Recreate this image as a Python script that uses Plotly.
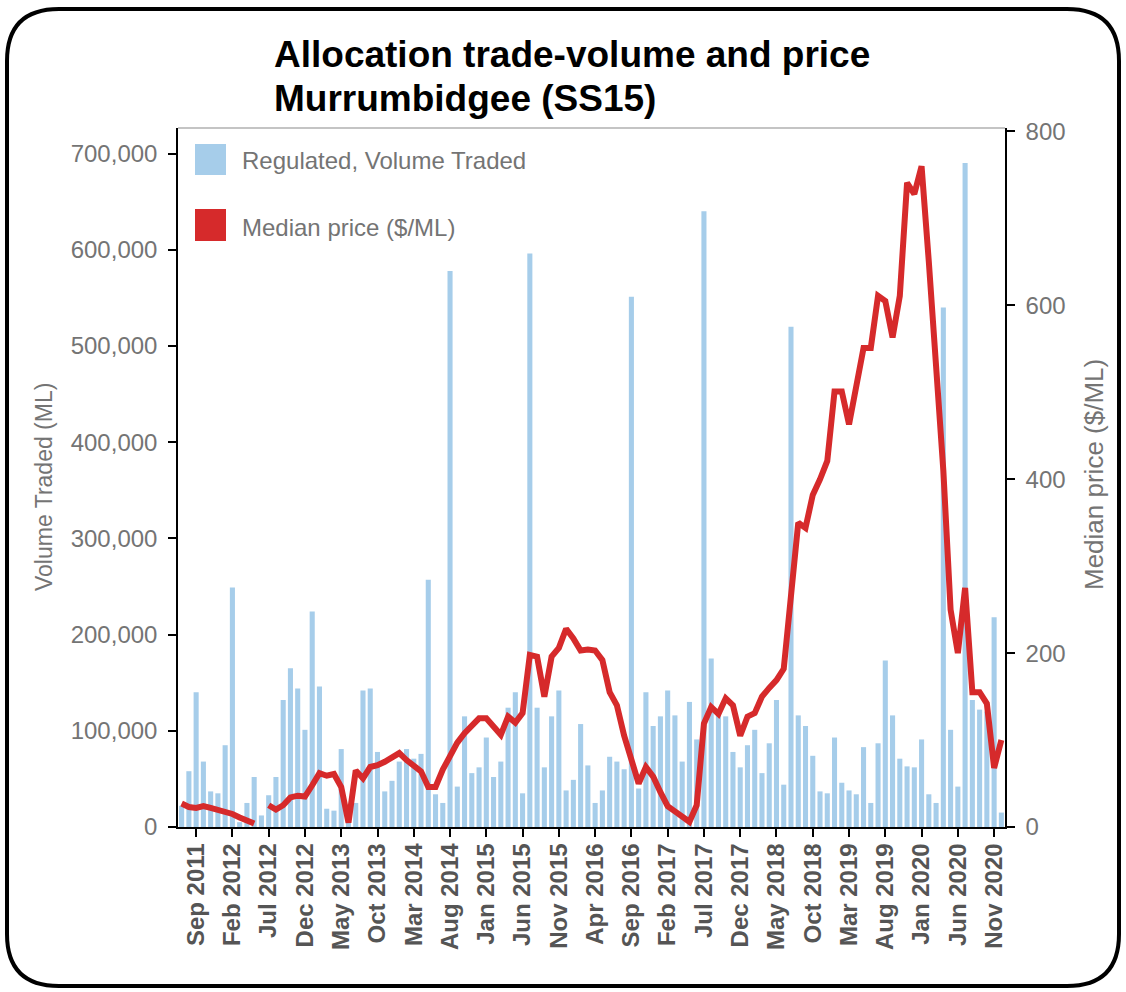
import plotly.graph_objects as go
import pandas as pd

# ---------------- data ----------------
months = [d.strftime("%b %Y") for d in pd.date_range("2011-07-01", "2020-12-01", freq="MS")]

volume = [
    22000, 58000, 140000, 68000, 37000, 35000, 85000, 249000, 5000, 25000,      # Jul11-Apr12
    52000, 12000, 33000, 52000, 132000, 165000, 144000, 101000, 224000, 146000,  # May12-Feb13
    19000, 17000, 81000, 15000, 25000, 142000, 144000, 78000, 37000, 48000,      # Mar13-Dec13
    68000, 81000, 71000, 76000, 257000, 34000, 25000, 578000, 42000, 115000,     # Jan14-Oct14
    56000, 62000, 93000, 52000, 68000, 124000, 140000, 35000, 596000, 124000,    # Nov14-Aug15
    62000, 115000, 142000, 38000, 49000, 107000, 64000, 25000, 38000, 73000,     # Sep15-Jun16
    68000, 60000, 551000, 40000, 140000, 105000, 115000, 142000, 116000, 68000,  # Jul16-Apr17
    130000, 91000, 640000, 175000, 118000, 115000, 78000, 62000, 85000, 101000,  # May17-Feb18
    56000, 87000, 132000, 44000, 520000, 116000, 105000, 74000, 37000, 35000,    # Mar18-Dec18
    93000, 46000, 38000, 34000, 83000, 25000, 87000, 173000, 116000, 71000,      # Jan19-Oct19
    63000, 62000, 91000, 34000, 25000, 540000, 101000, 42000, 690000, 132000,    # Nov19-Aug20
    122000, 120000, 218000, 15000,                                              # Sep20-Dec20
]

price = [
    27, 23, 22, 24, 22, 20, 18, 15, 11, 7,
    4, None, 25, 20, 25, 34, 36, 35, 48, 62,
    59, 61, 46, 5, 65, 56, 69, 71, 75, 81,
    85, 77, 71, 64, 46, 46, 66, 83, 97, 108,
    116, 125, 125, 116, 106, 127, 120, 131, 198, 196,
    150, 196, 206, 228, 217, 203, 204, 203, 192, 155,
    140, 105, 75, 50, 69, 58, 40, 24, 18, 12,
    6, 25, 119, 138, 130, 148, 140, 105, 127, 131,
    150, 160, 169, 182, 265, 350, 344, 382, 400, 421,
    501, 501, 463, 505, 551, 551, 611, 605, 563, 611,
    741, 728, 760, 650, 530, 410, 250, 200, 275, 155,
    155, 142, 68, 100,
]

tick_labels = months[2::5]          # Sep 2011, Feb 2012, ... Nov 2020
vol_ticks = [0, 100000, 200000, 300000, 400000, 500000, 600000, 700000]
price_ticks = [0, 200, 400, 600, 800]

title_lines = ["Allocation trade-volume and price", "Murrumbidgee (SS15)"]
series_names = ["Regulated, Volume Traded", "Median price ($/ML)"]
axis_titles = ["Volume Traded (ML)", "Median price ($/ML)"]

# ---------------- style ----------------
BLUE = "#a6cdea"
RED = "#d62a2b"
GREY = "#747474"
FONT = "Liberation Sans, Arial, sans-serif"

W, H = 1126, 992
L, R, T, B = 178, 1005, 128, 827  # plot area in pixels


def px(x):
    return (x - L) / (R - L)


def py(y):
    return (B - y) / (B - T)


fig = go.Figure()
fig.add_trace(go.Bar(x=months, y=volume, marker=dict(color=BLUE, line=dict(width=0)),
                     name=series_names[0], yaxis="y", showlegend=False))
fig.add_trace(go.Scatter(x=months, y=price, mode="lines", connectgaps=False,
                         line=dict(color=RED, width=6), name=series_names[1],
                         yaxis="y2", showlegend=False))

fig.update_layout(
    width=W, height=H, autosize=False,
    margin=dict(l=L, r=W - R, t=T, b=H - B, pad=0),
    paper_bgcolor="white", plot_bgcolor="white",
    font=dict(family=FONT, color=GREY),
    bargap=0.3,
    xaxis=dict(type="category", categoryorder="array", categoryarray=months,
               range=[-0.5, len(months) - 0.5],
               tickmode="array", tickvals=tick_labels, ticktext=[f"<b>{t}</b>" for t in tick_labels],
               tickangle=-90, tickfont=dict(size=24, color="#555555", family=FONT),
               ticks="outside", ticklen=8, tickcolor="black", tickwidth=1.5,
               showline=True, linecolor="black", linewidth=1.5, showgrid=False,
               zeroline=False, ticklabelstandoff=-3),
    yaxis=dict(range=[0, 726500], tickmode="array", tickvals=vol_ticks, tickformat=",",
               tickfont=dict(size=24, color=GREY), ticks="outside", ticklen=8,
               tickcolor="black", tickwidth=1.5, showline=True, linecolor="black",
               linewidth=1.5, showgrid=False, zeroline=False, ticklabelstandoff=6),
    yaxis2=dict(range=[0, 804], overlaying="y", side="right", tickmode="array",
                tickvals=price_ticks, tickfont=dict(size=24, color=GREY), ticks="outside",
                ticklen=8, tickcolor="black", tickwidth=1.5, showline=True,
                linecolor="black", linewidth=1.5, showgrid=False, zeroline=False,
                ticklabelstandoff=6),
)

shapes = []
# top border of plot area (light grey)
shapes.append(dict(type="line", xref="paper", yref="paper", x0=0, x1=1, y0=1, y1=1,
                   line=dict(color="#b0b0b0", width=1.5)))
# legend keys
shapes.append(dict(type="rect", xref="paper", yref="paper", x0=px(195), x1=px(226),
                   y0=py(175), y1=py(144), fillcolor=BLUE, line=dict(width=0)))
shapes.append(dict(type="rect", xref="paper", yref="paper", x0=px(195), x1=px(226),
                   y0=py(241), y1=py(209), fillcolor=RED, line=dict(width=0)))
# outer rounded frame
x0f, x1f, y0f, y1f, r = 7, 1119, 9, 986, 52
path = (f"M {px(x0f + r)},{py(y0f)} L {px(x1f - r)},{py(y0f)} "
        f"Q {px(x1f)},{py(y0f)} {px(x1f)},{py(y0f + r)} "
        f"L {px(x1f)},{py(y1f - r)} Q {px(x1f)},{py(y1f)} {px(x1f - r)},{py(y1f)} "
        f"L {px(x0f + r)},{py(y1f)} Q {px(x0f)},{py(y1f)} {px(x0f)},{py(y1f - r)} "
        f"L {px(x0f)},{py(y0f + r)} Q {px(x0f)},{py(y0f)} {px(x0f + r)},{py(y0f)} Z")
shapes.append(dict(type="path", xref="paper", yref="paper", path=path,
                   line=dict(color="black", width=4)))
fig.update_layout(shapes=shapes)

annotations = [
    dict(text=f"<b>{title_lines[0]}</b>", x=px(272), y=py(54), xref="paper", yref="paper",
         xanchor="left", yanchor="middle", showarrow=False,
         font=dict(size=37, color="black", family=FONT)),
    dict(text=f"<b>{title_lines[1]}</b>", x=px(272), y=py(98), xref="paper", yref="paper",
         xanchor="left", yanchor="middle", showarrow=False,
         font=dict(size=37, color="black", family=FONT)),
    dict(text=series_names[0], x=px(240), y=py(161), xref="paper", yref="paper",
         xanchor="left", yanchor="middle", showarrow=False, font=dict(size=24, color=GREY)),
    dict(text=series_names[1], x=px(240), y=py(227), xref="paper", yref="paper",
         xanchor="left", yanchor="middle", showarrow=False, font=dict(size=24, color=GREY)),
    dict(text=axis_titles[0], x=px(44), y=py(487), xref="paper", yref="paper",
         xanchor="center", yanchor="middle", textangle=-90, showarrow=False,
         font=dict(size=23, color=GREY)),
    dict(text=axis_titles[1], x=px(1094), y=py(475), xref="paper", yref="paper",
         xanchor="center", yanchor="middle", textangle=-90, showarrow=False,
         font=dict(size=26, color=GREY)),
]
fig.update_layout(annotations=annotations)

fig.write_html("out.html", config={"displayModeBar": False},
               post_script="document.body.style.margin='0px';document.body.style.overflow='hidden';")
